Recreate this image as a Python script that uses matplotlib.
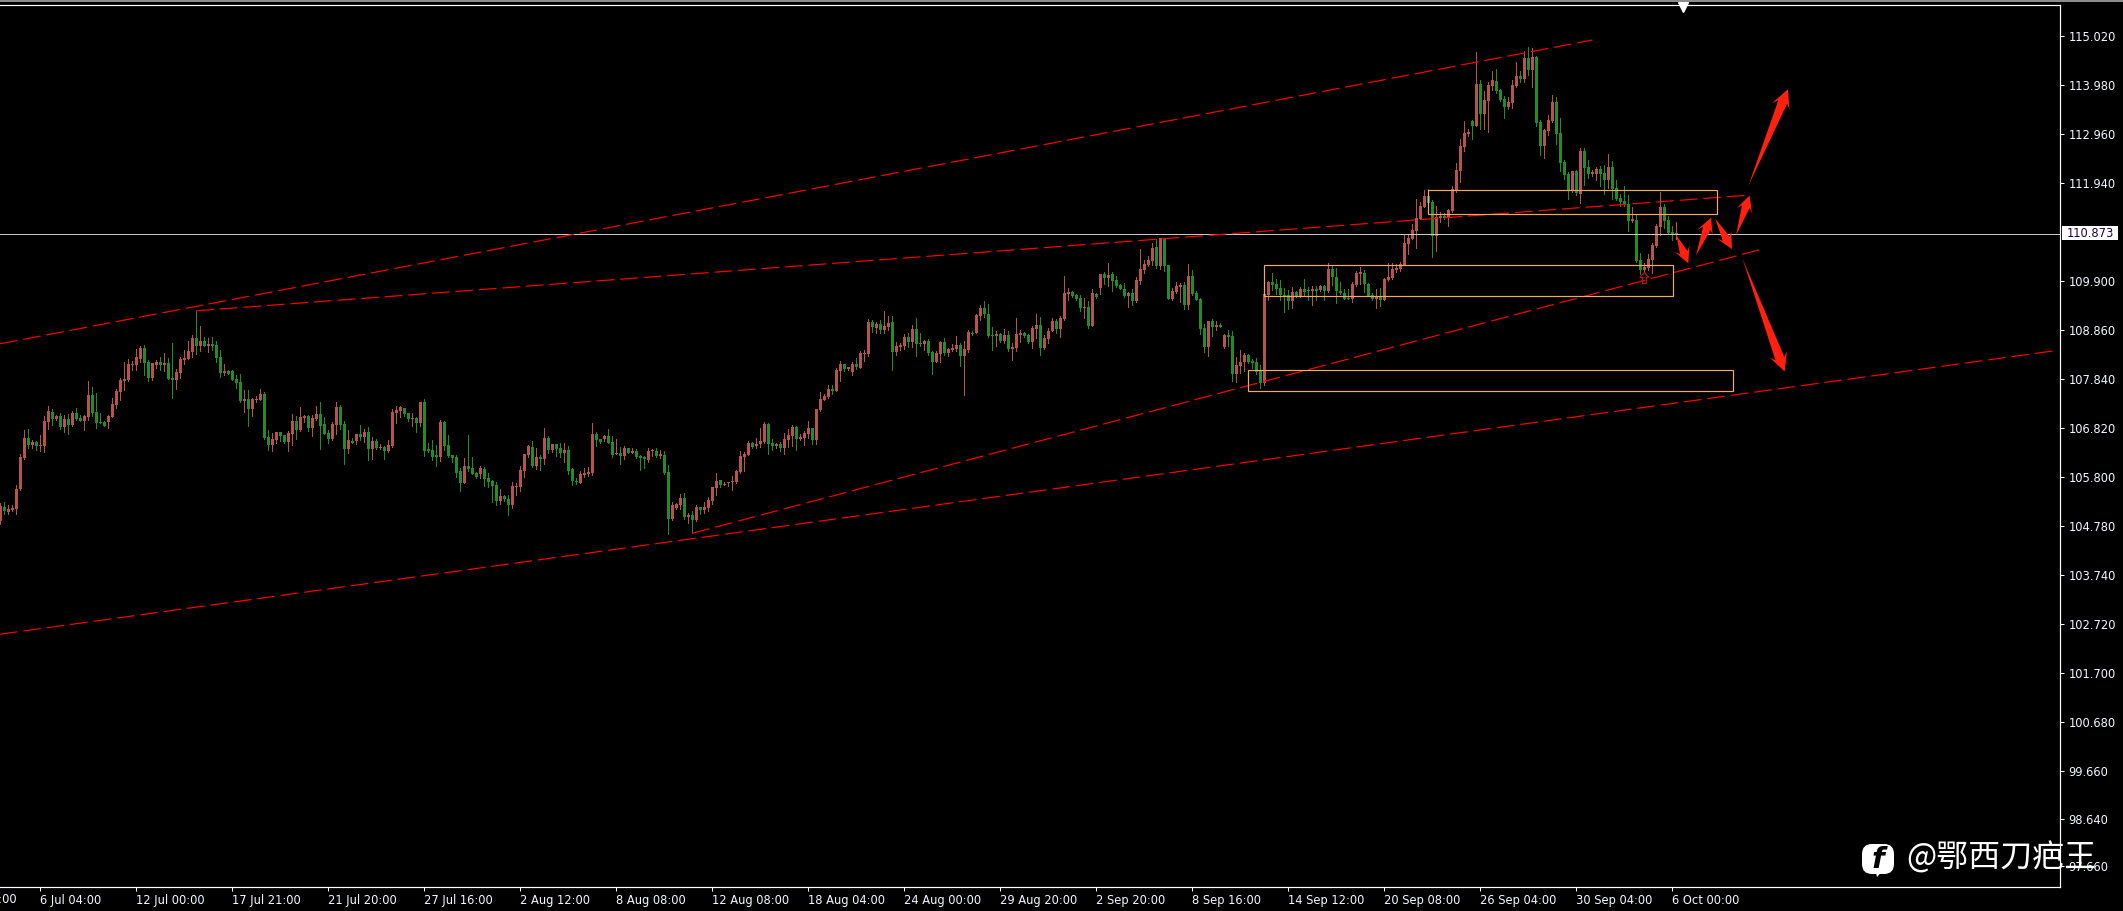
#!/usr/bin/env python3
"""Four-hour candle chart on a black terminal background, with trend lines and zones."""

import matplotlib
matplotlib.use("Agg")
import matplotlib.pyplot as plt
import numpy as np
from matplotlib.patches import FancyBboxPatch, Polygon, Rectangle
from matplotlib.transforms import IdentityTransform

# R = rising candle, G = falling candle, one letter per bar
DIRECTION = (
    "RGRRRRRGRG" "RRRGRGRGRG" "GRRGGGGRRR" "RRRRRRGGRR" "GRGGRRRRRG"
    "RGRGGGRGGG" "GRGRRRGGRR" "GGRRGRRGRR" "GGGRRGGRGR" "GRGRGRGRRR"
    "RGGRGRGGGG" "RGGGGGRGGG" "RGGGGRGGRR" "RRRGRGRGRG" "GRGGGRRRRG"
    "GRGGRGRGRG" "GGRRGRGGRR" "RGRGRGRRRR" "GRRRRRRRGR" "RRGGRGRRRG"
    "RRRGRRRRGR" "RGRRGRRRGR" "GRRGRRRGRG" "GRGGRRGRRR" "GRRGRRGGGR"
    "GRGRRRGGRR" "GRRRGRRRGG" "GRGRGRGRGG" "GGRGRRRRRG" "RGGRRRGRGG"
    "GGRGRGRGGR" "RRGGGGRRGG" "GGGRGRGGRG" "RGRGGGGGRR" "RGGGRGRRRR"
    "RRRRRRRGGR" "RGRRRRRRGR" "GRRRGGGRRR" "GRGRGGRRRG" "GGGRGRGGRR"
    "GGRGGGGGRG" "GRRRRRGGGR"
)

BODY_TOP = [
    105.19, 105.17, 105.12, 105.15, 105.54, 106.21, 106.61, 106.61, 106.53, 106.53,
    106.46, 106.97, 107.17, 107.15, 107.07, 107.07, 107.01, 107.01, 107.13, 107.13,
    107.03, 107.07, 107.51, 107.51, 107.15, 106.94, 106.94, 107.07, 107.32, 107.59,
    107.82, 107.84, 108.16, 108.16, 108.30, 108.49, 108.49, 108.20, 108.18, 108.20,
    108.20, 108.18, 108.18, 107.86, 107.99, 108.26, 108.28, 108.43, 108.70, 108.70,
    108.64, 108.64, 108.58, 108.58, 108.55, 108.30, 108.01, 108.01, 108.01, 107.84,
    107.78, 107.43, 107.43, 107.43, 107.43, 107.53, 107.53, 106.63, 106.59, 106.74,
    106.74, 106.67, 106.71, 106.97, 106.97, 107.05, 107.07, 107.07, 107.03, 107.11,
    107.11, 106.90, 106.71, 106.90, 107.26, 107.26, 106.90, 106.57, 106.55, 106.69,
    106.69, 106.74, 106.74, 106.55, 106.55, 106.42, 106.42, 106.46, 107.15, 107.20,
    107.26, 107.24, 107.13, 107.03, 107.03, 107.36, 107.36, 106.38, 106.36, 106.25,
    106.94, 106.94, 106.46, 106.25, 106.21, 105.92, 106.02, 106.02, 105.98, 105.88,
    105.98, 105.96, 105.77, 105.71, 105.63, 105.40, 105.40, 105.33, 105.60, 105.60,
    105.94, 106.27, 106.44, 106.42, 106.21, 106.21, 106.61, 106.61, 106.48, 106.48,
    106.40, 106.36, 106.36, 105.96, 105.71, 105.86, 105.88, 105.90, 106.69, 106.69,
    106.59, 106.65, 106.65, 106.53, 106.30, 106.30, 106.40, 106.40, 106.34, 106.34,
    106.23, 106.21, 106.34, 106.36, 106.34, 106.27, 106.25, 105.90, 105.21, 105.23,
    105.35, 105.35, 105.00, 105.00, 105.17, 105.17, 105.17, 105.31, 105.58, 105.71,
    105.73, 105.65, 105.69, 105.71, 105.92, 106.23, 106.27, 106.50, 106.50, 106.48,
    106.55, 106.90, 106.90, 106.50, 106.48, 106.48, 106.59, 106.67, 106.84, 106.84,
    106.63, 106.71, 106.82, 106.82, 107.22, 107.43, 107.49, 107.63, 107.63, 108.03,
    108.16, 108.16, 108.09, 108.16, 108.16, 108.39, 108.39, 109.04, 109.04, 108.99,
    108.99, 108.95, 109.01, 109.04, 108.53, 108.55, 108.72, 108.72, 108.89, 108.89,
    108.60, 108.64, 108.64, 108.41, 108.39, 108.62, 108.62, 108.47, 108.49, 108.55,
    108.55, 108.47, 108.83, 108.81, 109.18, 109.33, 109.33, 109.20, 108.76, 108.78,
    108.78, 108.76, 108.76, 108.51, 108.78, 108.81, 108.80, 108.76, 108.91, 108.97,
    108.97, 108.70, 108.85, 109.06, 109.06, 109.12, 109.64, 109.66, 109.66, 109.60,
    109.54, 109.35, 109.35, 109.64, 109.62, 110.04, 110.04, 110.02, 110.04, 109.91,
    109.81, 109.73, 109.64, 109.64, 109.91, 110.14, 110.25, 110.33, 110.58, 110.60,
    110.79, 110.79, 110.23, 109.68, 109.79, 109.81, 109.81, 110.00, 110.00, 109.64,
    109.52, 108.91, 109.06, 109.06, 108.97, 108.97, 108.76, 108.76, 108.74, 108.14,
    108.20, 108.35, 108.35, 108.22, 108.20, 108.01, 109.62, 109.87, 109.87, 109.83,
    109.75, 109.60, 109.60, 109.66, 109.66, 109.73, 109.73, 109.70, 109.73, 109.73,
    109.79, 109.79, 110.14, 110.14, 109.98, 109.68, 109.64, 109.54, 109.83, 110.06,
    110.08, 110.06, 109.83, 109.60, 109.58, 109.58, 109.93, 109.98, 110.14, 110.16,
    110.25, 110.69, 110.79, 110.96, 111.21, 111.46, 111.67, 111.67, 111.54, 111.23,
    111.25, 111.25, 111.38, 111.82, 112.21, 112.72, 112.99, 113.01, 113.24, 114.01,
    114.01, 113.68, 113.99, 114.10, 114.07, 113.89, 113.70, 113.64, 113.99, 114.18,
    114.18, 114.56, 114.56, 114.58, 114.58, 113.22, 113.05, 113.26, 113.64, 113.64,
    112.99, 112.38, 112.13, 112.19, 112.19, 112.61, 112.61, 112.28, 112.17, 112.23,
    112.23, 112.15, 112.28, 112.28, 111.84, 111.63, 111.57, 111.50, 111.19, 111.17,
    110.33, 110.19, 110.35, 110.65, 111.04, 111.44, 111.44, 111.17, 110.92, 110.90,
]

BODY_BOTTOM = [
    104.88, 105.08, 105.06, 105.10, 105.12, 105.54, 106.19, 106.47, 106.47, 106.44,
    106.45, 106.44, 106.94, 107.01, 107.01, 106.84, 106.84, 106.88, 106.88, 107.01,
    106.97, 106.97, 107.05, 107.13, 106.92, 106.92, 106.86, 106.94, 107.05, 107.30,
    107.57, 107.80, 107.82, 108.14, 108.14, 108.26, 108.18, 107.86, 107.86, 108.14,
    108.14, 108.14, 107.84, 107.82, 107.82, 107.97, 108.24, 108.26, 108.41, 108.53,
    108.53, 108.53, 108.53, 108.53, 108.28, 107.97, 107.97, 107.95, 107.82, 107.76,
    107.38, 107.38, 107.22, 107.22, 107.40, 107.40, 106.61, 106.46, 106.46, 106.57,
    106.65, 106.53, 106.53, 106.69, 106.78, 106.78, 107.03, 106.82, 106.82, 107.01,
    106.86, 106.69, 106.59, 106.59, 106.88, 106.88, 106.38, 106.38, 106.50, 106.55,
    106.63, 106.63, 106.38, 106.38, 106.40, 106.40, 106.34, 106.34, 106.44, 107.13,
    107.17, 107.11, 107.01, 107.01, 106.92, 106.92, 106.34, 106.34, 106.21, 106.21,
    106.21, 106.44, 106.23, 106.19, 105.88, 105.67, 105.67, 105.96, 105.86, 105.79,
    105.86, 105.75, 105.69, 105.60, 105.29, 105.29, 105.33, 105.21, 105.21, 105.58,
    105.58, 105.92, 106.25, 106.02, 106.02, 106.17, 106.17, 106.36, 106.36, 106.38,
    106.30, 106.30, 105.92, 105.71, 105.69, 105.67, 105.84, 105.86, 105.88, 106.57,
    106.53, 106.59, 106.50, 106.25, 106.27, 106.23, 106.23, 106.30, 106.30, 106.21,
    106.19, 106.17, 106.15, 106.34, 106.23, 106.23, 105.88, 104.92, 104.92, 105.15,
    105.21, 104.96, 104.96, 104.89, 104.89, 105.10, 105.10, 105.15, 105.29, 105.56,
    105.63, 105.63, 105.67, 105.69, 105.69, 105.90, 106.21, 106.25, 106.42, 106.44,
    106.48, 106.53, 106.48, 106.44, 106.44, 106.40, 106.40, 106.57, 106.65, 106.59,
    106.59, 106.61, 106.69, 106.57, 106.57, 107.20, 107.40, 107.47, 107.59, 107.59,
    108.01, 108.05, 108.05, 107.99, 108.09, 108.07, 108.37, 108.37, 108.93, 108.91,
    108.87, 108.87, 108.93, 108.41, 108.41, 108.51, 108.53, 108.62, 108.62, 108.58,
    108.58, 108.58, 108.39, 108.20, 108.20, 108.37, 108.39, 108.39, 108.45, 108.47,
    108.32, 108.32, 108.45, 108.78, 108.81, 109.16, 109.20, 108.74, 108.74, 108.74,
    108.64, 108.64, 108.47, 108.47, 108.49, 108.76, 108.74, 108.62, 108.62, 108.89,
    108.49, 108.49, 108.68, 108.85, 108.89, 108.89, 109.10, 109.62, 109.58, 109.52,
    109.33, 109.33, 108.95, 108.95, 109.56, 109.75, 109.96, 109.96, 109.89, 109.79,
    109.73, 109.58, 109.58, 109.47, 109.47, 109.89, 110.12, 110.23, 110.31, 110.21,
    110.21, 110.21, 109.52, 109.52, 109.66, 109.77, 109.39, 109.39, 109.62, 109.50,
    108.89, 108.51, 108.51, 108.93, 108.93, 108.93, 108.51, 108.72, 107.95, 107.95,
    108.12, 108.20, 108.20, 108.18, 107.99, 107.76, 107.76, 109.60, 109.81, 109.73,
    109.60, 109.58, 109.47, 109.47, 109.58, 109.58, 109.66, 109.68, 109.68, 109.68,
    109.70, 109.68, 109.68, 109.98, 109.68, 109.64, 109.52, 109.52, 109.52, 109.81,
    110.04, 109.83, 109.58, 109.52, 109.52, 109.50, 109.50, 109.91, 109.96, 110.12,
    110.14, 110.23, 110.67, 110.77, 110.94, 111.19, 111.44, 111.52, 110.83, 110.83,
    111.21, 111.21, 111.21, 111.36, 111.80, 112.19, 112.70, 112.97, 113.13, 113.13,
    113.38, 113.38, 113.66, 113.97, 113.87, 113.68, 113.53, 113.53, 113.61, 113.97,
    114.12, 114.12, 114.30, 114.30, 113.20, 112.72, 112.72, 113.03, 113.24, 112.97,
    112.36, 112.11, 111.80, 111.80, 111.73, 111.71, 112.26, 112.13, 112.13, 112.13,
    112.13, 112.00, 112.00, 111.82, 111.61, 111.54, 111.48, 111.15, 111.15, 110.31,
    110.12, 110.12, 110.16, 110.33, 110.62, 111.02, 111.15, 110.90, 110.85, 110.88,
]

HIGHS = [
    105.26, 105.27, 105.21, 105.22, 105.63, 106.27, 106.78, 106.80, 106.57, 106.55,
    106.67, 107.07, 107.28, 107.22, 107.09, 107.13, 107.09, 107.11, 107.17, 107.24,
    107.09, 107.09, 107.80, 107.68, 107.55, 107.13, 106.97, 107.09, 107.45, 107.63,
    107.86, 108.20, 108.26, 108.22, 108.47, 108.53, 108.55, 108.24, 108.18, 108.24,
    108.30, 108.39, 108.28, 108.60, 108.05, 108.30, 108.45, 108.64, 108.76, 109.27,
    108.95, 108.72, 108.70, 108.72, 108.64, 108.45, 108.16, 108.03, 108.03, 107.93,
    107.95, 107.61, 107.61, 107.45, 107.49, 107.63, 107.57, 106.78, 106.71, 106.74,
    106.74, 106.67, 106.76, 107.11, 107.07, 107.26, 107.09, 107.09, 107.09, 107.28,
    107.36, 107.05, 106.78, 106.94, 107.36, 107.30, 106.97, 106.78, 106.61, 106.69,
    106.88, 106.80, 106.84, 106.63, 106.59, 106.48, 106.44, 106.57, 107.22, 107.28,
    107.28, 107.24, 107.13, 107.13, 107.05, 107.36, 107.43, 106.50, 106.57, 106.46,
    106.99, 106.97, 106.67, 106.25, 106.25, 105.98, 106.19, 106.67, 106.21, 105.90,
    106.02, 106.00, 105.88, 105.73, 105.69, 105.54, 105.42, 105.42, 105.69, 105.67,
    106.02, 106.27, 106.46, 106.55, 106.40, 106.25, 106.82, 106.65, 106.48, 106.48,
    106.50, 106.50, 106.44, 105.98, 105.77, 105.92, 105.98, 106.00, 106.92, 106.74,
    106.59, 106.67, 106.80, 106.65, 106.59, 106.42, 106.44, 106.40, 106.40, 106.38,
    106.25, 106.23, 106.40, 106.38, 106.40, 106.36, 106.34, 106.05, 105.27, 105.25,
    105.44, 105.46, 105.04, 105.08, 105.21, 105.17, 105.27, 105.38, 105.58, 105.88,
    105.73, 105.69, 105.69, 105.81, 105.94, 106.34, 106.32, 106.55, 106.53, 106.61,
    106.82, 106.94, 106.92, 106.59, 106.50, 106.53, 106.71, 106.80, 106.88, 106.86,
    106.69, 106.76, 106.97, 106.82, 107.22, 107.57, 107.53, 107.72, 107.72, 108.07,
    108.22, 108.16, 108.09, 108.20, 108.28, 108.43, 108.45, 109.10, 109.08, 109.04,
    109.08, 109.27, 109.16, 109.16, 108.62, 108.60, 108.78, 108.81, 108.97, 109.12,
    108.81, 108.66, 108.68, 108.43, 108.43, 108.64, 108.70, 108.49, 108.58, 108.74,
    108.60, 108.64, 108.87, 108.85, 109.20, 109.39, 109.47, 109.41, 108.93, 108.85,
    108.81, 108.89, 108.85, 108.60, 109.12, 108.87, 108.83, 108.78, 108.95, 109.20,
    109.14, 108.76, 108.91, 109.12, 109.10, 109.16, 110.00, 109.75, 109.68, 109.62,
    109.60, 109.54, 109.47, 109.73, 109.64, 110.04, 110.08, 110.27, 110.08, 110.00,
    109.83, 109.85, 109.66, 109.73, 109.98, 110.56, 110.33, 110.42, 110.69, 110.77,
    110.79, 110.79, 110.23, 109.75, 109.87, 109.85, 109.87, 110.25, 110.12, 109.68,
    109.54, 108.99, 109.06, 109.10, 109.06, 109.01, 108.78, 108.87, 108.85, 108.30,
    108.45, 108.39, 108.37, 108.26, 108.28, 108.14, 109.62, 109.89, 110.06, 109.93,
    109.91, 109.75, 109.70, 109.77, 109.68, 109.77, 109.93, 109.77, 109.79, 109.79,
    109.81, 109.81, 110.27, 110.21, 110.16, 109.87, 109.73, 109.73, 109.87, 110.10,
    110.19, 110.12, 109.85, 109.64, 109.73, 109.75, 109.96, 110.27, 110.27, 110.25,
    110.29, 110.88, 110.85, 111.08, 111.61, 111.54, 111.80, 111.82, 111.59, 111.46,
    111.34, 111.31, 111.40, 111.88, 112.36, 112.86, 113.24, 113.07, 113.26, 114.68,
    114.10, 113.87, 114.05, 114.28, 114.33, 113.91, 113.76, 113.74, 114.10, 114.47,
    114.28, 114.70, 114.79, 114.76, 114.60, 113.26, 113.07, 113.36, 113.78, 113.74,
    113.30, 112.42, 112.17, 112.19, 112.21, 112.67, 112.67, 112.42, 112.21, 112.28,
    112.30, 112.32, 112.55, 112.40, 112.00, 111.71, 111.88, 111.69, 111.44, 111.27,
    110.48, 110.27, 110.46, 110.69, 111.08, 111.75, 111.50, 111.25, 111.04, 111.13,
]

LOWS = [
    104.81, 105.03, 105.03, 105.08, 105.02, 105.52, 106.17, 106.41, 106.40, 106.36,
    106.34, 106.32, 106.80, 106.88, 106.99, 106.80, 106.74, 106.69, 106.86, 106.99,
    106.97, 106.78, 106.99, 107.07, 106.82, 106.92, 106.86, 106.82, 107.05, 107.24,
    107.40, 107.61, 107.80, 108.03, 108.03, 108.20, 107.93, 107.80, 107.82, 108.07,
    108.03, 108.01, 107.84, 107.45, 107.63, 107.86, 108.16, 108.26, 108.30, 108.37,
    108.43, 108.53, 108.41, 108.45, 108.20, 107.89, 107.93, 107.95, 107.82, 107.66,
    107.36, 107.15, 106.86, 107.07, 107.36, 107.40, 106.59, 106.36, 106.34, 106.50,
    106.55, 106.50, 106.34, 106.46, 106.59, 106.76, 106.94, 106.76, 106.65, 106.99,
    106.38, 106.69, 106.50, 106.57, 106.69, 106.80, 106.07, 106.30, 106.50, 106.48,
    106.57, 106.53, 106.15, 106.17, 106.38, 106.38, 106.17, 106.32, 106.42, 106.92,
    107.05, 107.07, 106.97, 106.86, 106.74, 106.86, 106.23, 106.32, 106.15, 106.02,
    106.13, 106.36, 106.21, 106.11, 105.79, 105.50, 105.67, 105.92, 105.86, 105.77,
    105.77, 105.60, 105.58, 105.27, 105.21, 105.23, 105.29, 105.00, 105.15, 105.42,
    105.50, 105.79, 106.21, 106.00, 105.96, 105.94, 106.07, 106.30, 106.32, 106.23,
    106.21, 106.11, 105.86, 105.63, 105.65, 105.67, 105.79, 105.81, 105.84, 106.44,
    106.50, 106.55, 106.50, 106.21, 106.27, 106.07, 106.17, 106.30, 106.30, 106.19,
    105.94, 105.98, 106.11, 106.23, 106.21, 106.19, 105.86, 104.60, 104.89, 105.12,
    105.12, 104.92, 104.83, 104.62, 104.88, 105.02, 105.04, 105.08, 105.23, 105.42,
    105.58, 105.63, 105.60, 105.52, 105.67, 105.88, 105.92, 106.25, 106.40, 106.40,
    106.42, 106.50, 106.27, 106.36, 106.40, 106.34, 106.27, 106.42, 106.44, 106.36,
    106.57, 106.46, 106.61, 106.48, 106.48, 107.17, 107.40, 107.45, 107.53, 107.59,
    107.80, 108.01, 108.03, 107.93, 108.05, 108.07, 108.22, 108.32, 108.83, 108.81,
    108.81, 108.81, 108.87, 108.03, 108.35, 108.45, 108.47, 108.51, 108.51, 108.32,
    108.53, 108.45, 108.35, 107.95, 108.20, 108.20, 108.35, 108.32, 108.43, 108.43,
    108.12, 107.51, 108.41, 108.76, 108.81, 109.08, 109.14, 108.72, 108.45, 108.53,
    108.62, 108.60, 108.43, 108.24, 108.43, 108.62, 108.72, 108.60, 108.49, 108.70,
    108.35, 108.47, 108.60, 108.85, 108.81, 108.72, 109.08, 109.50, 109.56, 109.50,
    109.27, 109.12, 108.91, 108.95, 109.54, 109.62, 109.83, 109.79, 109.68, 109.77,
    109.73, 109.56, 109.35, 109.39, 109.45, 109.83, 110.06, 110.21, 110.23, 110.16,
    110.14, 110.10, 109.52, 109.50, 109.64, 109.45, 109.31, 109.31, 109.60, 109.50,
    108.78, 108.41, 108.32, 108.74, 108.87, 108.93, 108.49, 108.53, 107.80, 107.78,
    107.97, 108.01, 108.18, 108.07, 107.95, 107.66, 107.72, 109.50, 109.70, 109.62,
    109.50, 109.24, 109.31, 109.33, 109.56, 109.56, 109.60, 109.50, 109.39, 109.50,
    109.68, 109.50, 109.66, 109.81, 109.43, 109.62, 109.52, 109.52, 109.45, 109.79,
    109.83, 109.66, 109.58, 109.50, 109.33, 109.37, 109.50, 109.89, 109.93, 110.08,
    110.10, 110.23, 110.46, 110.77, 110.58, 111.19, 111.44, 111.50, 110.39, 110.52,
    111.13, 111.19, 111.04, 111.34, 111.75, 111.96, 112.61, 112.92, 112.86, 113.13,
    113.07, 113.07, 113.01, 113.89, 113.82, 113.66, 113.30, 113.49, 113.51, 113.95,
    114.05, 114.05, 114.20, 113.95, 113.13, 112.53, 112.46, 112.95, 113.22, 112.76,
    112.19, 112.03, 111.61, 111.75, 111.69, 111.52, 111.90, 112.05, 112.09, 112.00,
    111.88, 111.71, 111.84, 111.61, 111.59, 111.46, 111.46, 110.94, 111.13, 110.29,
    110.04, 110.08, 110.12, 110.06, 110.60, 110.85, 111.00, 110.88, 110.75, 110.77,
]

PRICE_TICKS = [115.02, 113.98, 112.96, 111.94, 109.90, 108.86, 107.84, 106.82, 105.80,
               104.78, 103.74, 102.72, 101.70, 100.68, 99.66, 98.64, 97.66]
TIME_TICK_BARS = [10, 34, 58, 82, 106, 130, 154, 178, 202, 226, 250, 274, 298,
                  322, 346, 370, 394, 418]
TIME_LABELS = ["6 Jul 04:00", "12 Jul 00:00", "17 Jul 21:00",
               "21 Jul 20:00", "27 Jul 16:00", "2 Aug 12:00", "8 Aug 08:00",
               "12 Aug 08:00", "18 Aug 04:00", "24 Aug 00:00", "29 Aug 20:00",
               "2 Sep 20:00", "8 Sep 16:00", "14 Sep 12:00", "20 Sep 08:00",
               "26 Sep 04:00", "30 Sep 04:00", "6 Oct 00:00"]
FIRST_LABEL = "30 Jun 08:00"  # runs off the left edge, only its end shows
FIRST_LABEL_BAR = -14
LAST_PRICE = 110.873

# trend lines: start bar, start price, end bar, end price
TREND_LINES = [
    (-0.1, 108.58, 398.0, 114.93),
    (49.0, 109.27, 437.5, 111.69),
    (173.0, 104.62, 440.0, 110.55),
    (-0.1, 102.51, 514.0, 108.44),
]
# zones: left bar, right bar, lower price, upper price
ZONES = [
    (357.0, 429.2, 111.29, 111.79),
    (316.0, 418.1, 109.57, 110.22),
    (312.0, 433.1, 107.59, 108.03),
]
# hand-drawn arrows: tail bar, tail price, tip bar, tip price, size
ARROWS = [
    (419.0, 110.85, 422.0, 110.26, 0.9),
    (423.9, 110.42, 427.7, 111.22, 0.9),
    (428.7, 111.20, 432.9, 110.56, 0.9),
    (433.9, 110.84, 437.3, 111.68, 0.9),
    (437.0, 111.88, 446.9, 113.90, 1.05),
    (435.5, 110.37, 446.1, 108.00, 1.05),
]
MARKER_BARS = [411.0, 409.9, 410.55, 410.55, 411.5, 411.5, 412.1, 411.0]
MARKER_PRICES = [110.07, 109.97, 109.97, 109.84, 109.84, 109.97, 109.97, 110.07]

RISE = "#b5544a"
FALL = "#248c26"
LINE_RED = "#ff0000"
ZONE = "#f2a866"
LABEL = "#f4f8ff"
WIDTH, HEIGHT = 2123, 911
PX = 0.72  # one pixel in points at dpi 100


def draw_arrow(ax, tail, tip, size):
    # shaft starts as a point and widens up to a swept-back head
    tail, tip = ax.transData.transform([tail, tip])
    along = (tip - tail) / np.linalg.norm(tip - tail)
    side = np.array([-along[1], along[0]])
    neck = tip - along * 13 * size
    barb = tip - along * 18 * size
    pts = [tail, neck + side * 4.5 * size, barb + side * 9 * size, tip,
           barb - side * 9 * size, neck - side * 4.5 * size]
    ax.add_patch(Polygon(pts, closed=True, facecolor="#ff2010", edgecolor="none",
                         transform=IdentityTransform(), zorder=6))


def main():
    plt.rcParams["font.family"] = ["DejaVu Sans"]
    fig = plt.figure(figsize=(WIDTH / 100, HEIGHT / 100), dpi=100, facecolor="black")
    ax = fig.add_axes([0, 1 - 887.3 / HEIGHT, 2060.3 / WIDTH, (887.3 - 4.6) / HEIGHT])
    ax.set_facecolor("black")

    bars = np.arange(len(HIGHS))
    top, bottom = np.array(BODY_TOP), np.array(BODY_BOTTOM)
    highs, lows = np.array(HIGHS), np.array(LOWS)
    rising = np.array([c == "R" for c in DIRECTION])
    colors = np.where(rising, RISE, FALL)

    ax.vlines(bars, lows, highs, colors=colors, linewidth=PX, antialiased=False, zorder=2)
    ax.bar(bars, top - bottom, bottom=bottom, width=0.75, color=colors, linewidth=0,
           antialiased=False, zorder=3)

    ax.axhline(LAST_PRICE, color="#c8c8c8", linewidth=PX, zorder=4)
    for x0, p0, x1, p1 in TREND_LINES:
        ax.plot([x0, x1], [p0, p1], color=LINE_RED, linewidth=0.85,
                linestyle=(0, (15, 5)), zorder=5)
    for left, right, low, high in ZONES:
        ax.add_patch(Rectangle((left, low), right - left, high - low, fill=False,
                               edgecolor=ZONE, linewidth=1.2 * PX, zorder=5))
    ax.plot(MARKER_BARS, MARKER_PRICES, color="#e01010", linewidth=PX, zorder=6)

    # frame and scales; ticks first, set_xticks would otherwise widen the limits
    for side in ("top", "right", "bottom"):
        ax.spines[side].set_color("white")
        ax.spines[side].set_linewidth(PX * 1.2)
    ax.spines["left"].set_visible(False)
    ax.yaxis.tick_right()
    ax.set_yticks(PRICE_TICKS)
    ax.set_yticklabels([f"{p:.3f}" for p in PRICE_TICKS], fontsize=8.3, color=LABEL)
    ax.tick_params(axis="y", length=3, width=PX, color="white", pad=2.8)
    ax.set_xticks(TIME_TICK_BARS)
    ax.set_xticklabels(TIME_LABELS, fontsize=8.3, color=LABEL, ha="left")
    ax.tick_params(axis="x", length=3, width=PX, color="white", pad=1.8)
    ax.set_xlim(-0.075, 514.99)
    ax.set_ylim(97.22, 115.67)
    ax.text(FIRST_LABEL_BAR, -5.9 / (887.3 - 4.6), FIRST_LABEL, fontsize=8.3, color=LABEL,
            transform=ax.get_xaxis_transform(), ha="left", va="top", clip_on=False)

    fig.canvas.draw()
    for x0, p0, x1, p1, size in ARROWS:
        draw_arrow(ax, (x0, p0), (x1, p1), size)

    # small shift marker hanging from the top of the chart
    ax.plot([420.7], [115.61], marker="v", markersize=6.5, color="white", clip_on=False,
            linestyle="none", zorder=6)

    # last price tag
    tag = Rectangle((2062 / WIDTH, 1 - 240 / HEIGHT), 56 / WIDTH, 14 / HEIGHT,
                    transform=fig.transFigure, facecolor="white", edgecolor="none", zorder=7)
    fig.add_artist(tag)
    fig.text(2067 / WIDTH, 1 - 233.3 / HEIGHT, f"{LAST_PRICE:.3f}", fontsize=8.3,
             color="#200040", va="center", ha="left", zorder=8)

    # window edge above the chart
    fig.add_artist(Rectangle((0, 1 - 2 / HEIGHT), 1, 2 / HEIGHT, transform=fig.transFigure,
                             facecolor="#8c8c8c", edgecolor="none"))

    # watermark: rounded icon with a cut-out f, then the handle
    icon = FancyBboxPatch((1866, HEIGHT - 870), 24, 22,
                          boxstyle="round,pad=4,rounding_size=10",
                          transform=IdentityTransform(), facecolor="white",
                          edgecolor="none", zorder=9)
    fig.add_artist(icon)
    fig.add_artist(Polygon([(1875, HEIGHT - 868), (1885, HEIGHT - 868), (1877, HEIGHT - 877)],
                           closed=True, transform=IdentityTransform(), facecolor="white",
                           edgecolor="none", zorder=9))
    fig.text(1878 / WIDTH, 1 - 860 / HEIGHT, "f", fontsize=21, fontweight="bold",
             fontstyle="italic", color="black", ha="center", va="center", zorder=10)
    fig.text(1906 / WIDTH, 1 - 858 / HEIGHT, "@鄂西刀疤王", fontsize=23, color="white",
             family=["Noto Sans CJK SC", "DejaVu Sans"], ha="left", va="center", zorder=10)

    fig.savefig("out.png", dpi=100, facecolor="black")
    plt.close(fig)


if __name__ == "__main__":
    main()
